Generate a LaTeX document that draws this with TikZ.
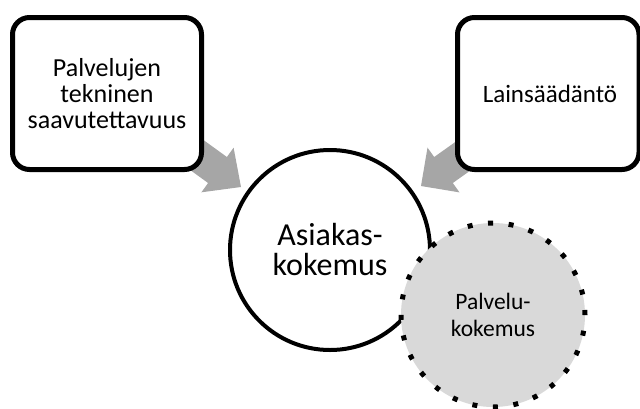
\documentclass[tikz,border=0pt]{standalone}
\usepackage{fontspec}
\setmainfont{Carlito}
\definecolor{arrowgray}{RGB}{166,166,166}
\definecolor{softgray}{RGB}{217,217,217}
\tikzset{
  infobox/.style={draw=black, line width=5pt, rounded corners=17pt, fill=white,
    align=center, inner sep=0pt},
  bigcircle/.style={circle, draw=black, line width=4pt, fill=white, align=center,
    minimum size=200pt, inner sep=0pt, font=\fontsize{32}{30}\selectfont},
  dotcircle/.style={circle, draw=black, line width=5pt, fill=softgray, align=center,
    dash pattern=on 5pt off 15.64pt, minimum size=184pt, inner sep=0pt,
    font=\fontsize{23.5}{27.4}\selectfont},
  blockarrow/.style={fill=arrowgray, draw=none}
}
\begin{document}
\begin{tikzpicture}[x=1pt,y=-1pt]
\useasboundingbox (0,0) rectangle (640,408);
% block arrows (behind the boxes)
\coordinate (tipL) at (241,187);
\coordinate (tipR) at (421,186);
\fill[blockarrow] (178.3,121.8) -- (226.9,157.0) -- (233.6,147.7) -- (tipL)
  -- (201.4,192.3) -- (208.1,183.0) -- (159.5,147.8) -- cycle;
\fill[blockarrow] (483.1,122.2) -- (434.2,157.0) -- (427.5,147.6) -- (tipR)
  -- (459.5,192.4) -- (452.8,183.0) -- (501.7,148.2) -- cycle;
% boxes
\node[infobox, minimum width=189pt, minimum height=152pt,
  font=\fontsize{26}{26}\selectfont] (tech) at (107,93.5)
  {Palvelujen\\tekninen\\saavutettavuus};
\node[infobox, minimum width=181.5pt, minimum height=152pt,
  font=\fontsize{25}{27}\selectfont] (law) at (548.25,93.5)
  {\hspace*{3.5pt}Lainsäädäntö};
% circles
\node[bigcircle] (cx) at (330,250) {Asiakas-\\kokemus};
\node[dotcircle] (sx) at (493,315) {Palvelu-\\kokemus};
\end{tikzpicture}
\end{document}
